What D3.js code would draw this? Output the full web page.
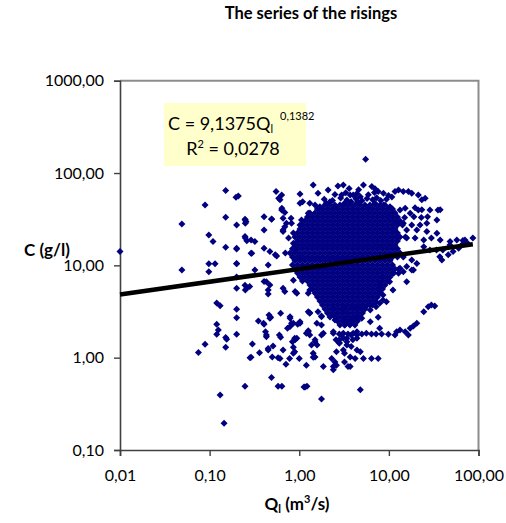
<!DOCTYPE html>
<html>
<head>
<meta charset="utf-8">
<script src="https://cdn.jsdelivr.net/npm/d3@7"></script>
<style>
  body { margin: 0; background: #fff; }
  text { font-family: Lato, "Open Sans", sans-serif; fill: #000; }
</style>
</head>
<body>
<svg id="chart" width="506" height="523"></svg>
<script>
// ---- data ----------------------------------------------------------------
const titleText = "The series of the risings";
const xTickValues = [0.01, 0.1, 1, 10, 100];
const yTickValues = [0.1, 1, 10, 100, 1000];

// power-law fit C = a * Q^b
const fitA = 9.1375;
const fitB = 0.1382;
const fitLabel = "9,1375";
const fitExpLabel = "0,1382";
const fitR2Label = "0,0278";

// scattered observations [Q (m3/s), C (g/l)]
const scatteredPoints = [
  [0.01,14.1],[0.049,28.1],[0.049,8.9],[0.089,45.1],[0.098,21.3],[0.109,18.1],[0.098,10.4],[0.115,10.4],[0.098,8.5],
  [0.151,64.5],[0.151,33.2],[0.151,15.7],[0.197,54.7],[0.209,56.5],[0.2,27.4],[0.2,15.3],[0.2,10.4],[0.2,7.5],
  [0.248,31.6],[0.255,29.7],[0.248,20.5],[0.26,18.5],[0.248,6.1],[0.26,5.7],[0.295,13.5],[0.32,18.1],
  [0.405,33.7],[0.405,24.2],[0.493,31.8],[0.405,15.3],[0.405,6.7],[0.45,5.4],
  [0.551,62.9],[0.637,57.9],[0.59,53.3],[0.637,39.8],[0.54,13.0],[0.66,24.2],[0.72,28.5],[0.81,32.4],[0.61,51.2],
  [1.02,59.3],[1.09,49.0],[1.02,47.1],[1.43,74.3],[1.62,60.4],[2.1,65.6],[2.7,72.5],[2.97,57.9],[4.0,57.9],
  [0.49,31.6],[0.64,41.6],[0.69,37.4],[0.66,32.4],[0.25,31.0],[0.25,28.5],[0.66,23.2],[0.69,26.2],[0.82,28.5],
  [1.06,31.0],[1.02,27.4],[1.26,36.6],[1.31,47.1],[0.25,19.8],[0.29,18.8],[0.2,15.0],[0.29,13.5],[0.47,14.1],[0.56,12.6],
  [0.76,19.8],[0.86,17.4],[0.90,14.7],[1.02,12.4],[0.2,10.5],[0.32,8.9],[0.45,10.1],
  [1.5,45.1],[1.7,43.1],[2.0,47.1],[2.2,49.0],[2.5,43.1],[3.1,45.1],[3.7,47.1],[4.5,49.0],
  [1.9,52.0],[2.35,50.5],[2.9,53.5],[3.4,51.0],[4.3,52.5],[5.0,50.0],[5.7,53.0],[6.6,51.5],[7.3,54.0],[8.1,50.5],[9.4,52.0],
  [2.5,58.5],[3.3,61.0],[4.4,60.0],[5.9,58.0],[6.9,61.5],[9.9,57.0],[10.8,55.0],[3.6,68.0],[4.6,66.0],[7.0,67.5],
  [5.2,74.3],[6.45,71.5],[7.6,62.9],[8.7,60.4],[11.7,62.9],[12.8,65.6],[14.5,62.9],[16.5,62.9],[18.0,60.4],[21.3,57.9],[23.3,51.2],[25.4,53.3],
  [3.1,74.3],[3.7,57.9],[4.8,55.5],[3.2,47.1],[3.8,49.0],
  [5.9,41.6],[7.0,47.1],[8.7,45.1],[10.3,43.1],[13.3,39.8],[17.3,36.6],[21.3,39.8],[28.7,39.8],[35.3,39.8],
  [15.2,41.6],[19.6,42.0],[23.3,40.0],[37.4,40.0],
  [34.3,31.0],[26.5,28.5],[22.3,27.4],[18.0,27.4],[14.5,28.5],[12.4,28.5],[11.3,24.2],[15.8,24.2],[20.5,24.2],[26.5,23.2],[34.3,22.3],
  [9.8,33.7],[15.0,33.0],[19.0,33.7],[23.0,33.0],[27.0,33.7],
  [12.4,20.4],[15.8,19.8],[19.6,19.8],[24.5,18.8],[29.8,19.8],[37.4,18.8],[48.2,18.1],[57.3,18.8],[70.6,18.8],[86.5,19.8],[67,18.6],
  [48,16.6],[34,14.7],[40,14.7],[37,12.4],[24.5,15.9],[28.7,14.7],[39,11.4],[46,13.0],[52,14.1],[60,15.3],[66,16.8],[75,17.5],
  [18,11.4],[20.5,10.5],[15.8,9.7],[18.8,8.9],[5.5,141],
  [15.8,6.66],[11.3,8.2],[13.3,9.3],[7.9,6.14],[8.6,7.5],[12.8,8.2],[14.5,8.5],[18,8.9],
  [10.2,6.66],[11.1,5.4],[8.6,4.78],[7.9,5.4],[7.2,4.04],[7.9,3.88],[8.6,4.22],[9.4,4.04],
  [1.31,3.03],[1.77,2.78],[2.4,3.43],[3.1,3.29],[4.4,3.43],[6.2,3.29],[7.2,3.57],
  [3.2,3.43],[4.0,3.57],[4.8,3.57],[5.4,3.52],[6.2,3.72],
  [3.2,2.56],[3.7,2.45],[4.0,2.67],[4.98,2.67],[6.2,2.45],[7.6,2.74],
  [9.87,1.79],[11.7,1.76],[12.2,1.91],[13.3,1.99],[15.2,1.91],[16.5,1.76],[17.3,2.08],[18.8,2.20],[20.5,2.36],[7.9,2.08],
  [24.5,3.15],[27.5,3.57],[29.8,3.72],[32.5,3.63],
  [2.4,1.84],[2.8,1.80],[3.1,1.84],[3.5,1.80],[4.0,1.84],[4.4,1.76],[5.0,1.80],[5.6,1.84],[6.4,1.80],[7.2,1.80],[8.3,1.80],
  [2.8,1.43],[3.4,1.37],[3.8,1.32],[4.4,1.21],[4.8,1.16],[3.2,1.12],[3.7,1.02],[4.2,0.98],[5.2,0.98],[6.4,0.98],[7.6,0.98],
  [2.8,1.56],[3.1,1.62],[3.4,1.49],[3.96,1.56],[4.4,1.62],
  [1.2,0.83],[1.5,1.02],[1.86,0.80],[2.3,0.98],[2.4,0.74],[2.6,0.83],[2.5,0.90],[3.7,0.80],[3.2,0.90],[3.5,0.80],[2.4,0.80],
  [1.26,1.91],[1.31,1.76],[1.5,1.49],[1.37,1.37],[1.43,1.12],[1.77,1.76],[1.86,1.84],[1.57,2.36],[1.77,2.26],[1.77,2.83],
  [1.31,3.07],[1.26,1.96],[1.50,1.56],[1.58,1.37],[1.43,1.01],[1.62,3.15],[2.4,2.9],[2.5,2.56],[2.4,1.91],[2.57,1.56],[2.8,1.45],[2.6,1.16],[3.1,1.21],
  [2.97,1.76],[3.4,1.62],[3.8,1.76],[4.4,1.91],[3.2,2.26],[3.6,2.36],[4.2,2.67],[4.5,2.78],
  [1.77,0.357],[4.8,0.45],[1.16,0.48],[1.22,0.49],
  [0.120,3.9],[0.131,3.66],[0.2,3.35],[0.2,2.71],[0.12,2.30],[0.125,2.0],[0.12,1.79],[0.151,1.65],[0.155,1.58],[0.2,1.79],
  [0.151,1.30],[0.089,1.40],[0.075,1.14],[0.131,0.394],[0.145,0.195],[0.248,0.49],[0.282,1.0],[0.30,1.41],[0.35,2.5],
  [0.405,2.30],[0.42,1.91],[0.43,1.69],[0.36,1.13],[0.46,2.9],[0.48,2.74],[0.45,1.21],[0.51,1.34],[0.50,1.02],[0.58,1.0],
  [0.49,0.61],[0.58,0.49],[0.64,0.49],[0.62,3.03],[0.60,1.76],[0.62,1.66],[0.66,1.21],[0.71,0.85],[0.79,2.78],[0.74,2.08],
  [0.79,2.17],[0.86,2.36],[0.96,2.30],[1.02,2.36],[0.84,1.49],[0.89,1.62],[0.86,1.12],[0.89,1.16],[1.0,0.98],[1.13,0.48],
  [1.2,1.84],[1.26,3.15],
  [0.2,5.65],[0.25,5.4],[0.28,5.9],[0.43,6.66],[0.47,6.14],[0.45,4.9],[0.66,5.65],[0.69,5.2],[0.86,6.9],[0.90,5.2],[0.94,5.0],[1.31,5.4],[1.26,5.0],
  [0.40,2.36],[0.47,2.67],[0.43,1.76],[0.29,1.01],[0.45,1.26],[0.61,0.98],[0.78,0.98],[0.90,1.56],[0.94,1.62],[0.86,1.30],[0.82,2.36],[0.79,2.67],[1.02,2.45]
];

// dense centre of the cloud, one row per concentration level: [C, [Q, ...]]
const denseRows = [
  [45.1, [1.935,2.201,2.502,2.846,3.236,3.680,4.184,4.758,5.411,6.152,6.997,7.955,9.049]],
  [40.8, [1.596,1.815,2.064,2.347,2.669,3.035,3.451,3.925,4.463,5.075,5.771,6.562,7.462,8.486,9.647,10.97]],
  [37.0, [1.316,1.497,1.702,1.935,2.201,2.502,2.846,3.236,3.680,4.184,4.758,5.411,6.152,6.997,7.955,9.049,10.29,11.70]],
  [33.4, [1.235,1.404,1.596,1.815,2.064,2.347,2.669,3.035,3.451,3.925,4.463,5.075,5.771,6.562,7.462,8.486,9.647,10.97,12.47]],
  [30.3, [1.158,1.316,1.497,1.702,1.935,2.201,2.502,2.846,3.236,3.680,4.184,4.758,5.411,6.152,6.997,7.955,9.049,10.29,11.70,13.30]],
  [27.4, [1.086,1.235,1.404,1.596,1.815,2.064,2.347,2.669,3.035,3.451,3.925,4.463,5.075,5.771,6.562,7.462,8.486,9.647,10.97,12.47,14.2]],
  [24.8, [1.018,1.158,1.316,1.497,1.702,1.935,2.201,2.502,2.846,3.236,3.680,4.184,4.758,5.411,6.152,6.997,7.955,9.049,10.29,11.70]],
  [22.4, [0.86,0.955,1.086,1.235,1.404,1.596,1.815,2.064,2.347,2.669,3.035,3.451,3.925,4.463,5.075,5.771,6.562,7.462,8.486,9.647,10.97,12.47]],
  [20.3, [0.895,1.018,1.158,1.316,1.497,1.702,1.935,2.201,2.502,2.846,3.236,3.680,4.184,4.758,5.411,6.152,6.997,7.955,9.049,10.29,11.70,13.30,15.3]],
  [18.4, [0.955,1.086,1.235,1.404,1.596,1.815,2.064,2.347,2.669,3.035,3.451,3.925,4.463,5.075,5.771,6.562,7.462,8.486,9.647,10.97,12.47]],
  [16.6, [0.895,1.018,1.158,1.316,1.497,1.702,1.935,2.201,2.502,2.846,3.236,3.680,4.184,4.758,5.411,6.152,6.997,7.955,9.049,10.29,11.70]],
  [15.1, [0.840,0.955,1.086,1.235,1.404,1.596,1.815,2.064,2.347,2.669,3.035,3.451,3.925,4.463,5.075,5.771,6.562,7.462,8.486,9.647,10.97,12.47]],
  [13.6, [0.70,0.788,0.895,1.018,1.158,1.316,1.497,1.702,1.935,2.201,2.502,2.846,3.236,3.680,4.184,4.758,5.411,6.152,6.997,7.955,9.049,10.29,11.70,13.30]],
  [12.3, [0.840,0.955,1.086,1.235,1.404,1.596,1.815,2.064,2.347,2.669,3.035,3.451,3.925,4.463,5.075,5.771,6.562,7.462,8.486,9.647,10.97,12.47,14.5]],
  [11.2, [0.895,1.018,1.158,1.316,1.497,1.702,1.935,2.201,2.502,2.846,3.236,3.680,4.184,4.758,5.411,6.152,6.997,7.955,9.049,10.29]],
  [10.1, [0.840,0.955,1.086,1.235,1.404,1.596,1.815,2.064,2.347,2.669,3.035,3.451,3.925,4.463,5.075,5.771,6.562,7.462,8.486,9.647,10.97]],
  [9.14, [0.895,1.018,1.158,1.316,1.497,1.702,1.935,2.201,2.502,2.846,3.236,3.680,4.184,4.758,5.411,6.152,6.997,7.955,9.049,10.29,11.70,12.9]],
  [8.27, [0.955,1.086,1.235,1.404,1.596,1.815,2.064,2.347,2.669,3.035,3.451,3.925,4.463,5.075,5.771,6.562,7.462,8.486,9.647,10.97]],
  [7.49, [1.018,1.158,1.316,1.497,1.702,1.935,2.201,2.502,2.846,3.236,3.680,4.184,4.758,5.411,6.152,6.997,7.955,9.049,10.29]],
  [6.78, [1.086,1.235,1.404,1.596,1.815,2.064,2.347,2.669,3.035,3.451,3.925,4.463,5.075,5.771,6.562,7.462,8.486,9.647]],
  [6.13, [1.316,1.497,1.702,1.935,2.201,2.502,2.846,3.236,3.680,4.184,4.758,5.411,6.152,6.997,7.955,9.049]],
  [5.55, [1.404,1.596,1.815,2.064,2.347,2.669,3.035,3.451,3.925,4.463,5.075,5.771,6.562,7.462,8.486]],
  [5.02, [1.497,1.702,1.935,2.201,2.502,2.846,3.236,3.680,4.184,4.758,5.411,6.152,6.997,7.955]],
  [4.55, [1.596,1.815,2.064,2.347,2.669,3.035,3.451,3.925,4.463,5.075,5.771,6.562,7.462]],
  [4.12, [1.702,1.935,2.201,2.502,2.846,3.236,3.680,4.184,4.758,5.411,6.152,6.997]],
  [3.72, [1.815,2.064,2.347,2.669,3.035,3.451,3.925,4.463,5.075,5.771,6.562]],
  [3.37, [1.935,2.201,2.502,2.846,3.236,3.680,4.184,4.758,5.411]],
  [3.05, [2.064,2.347,2.669,3.035,3.451,3.925,4.463,5.075]],
  [2.76, [2.201,2.502,2.846,3.236,3.680,4.184,4.758]],
  [2.50, [2.669,3.035,3.451,3.925,4.463]],
  [2.26, [2.846,3.236,3.680,4.184]]
];

// ---- chart -----------------------------------------------------------------
const points = scatteredPoints.concat(
  denseRows.flatMap(([c, qs]) => qs.map(q => [q, c]))
);

const svg = d3.select("#chart");
const x = d3.scaleLog().domain([0.01, 100]).range([120, 478.5]);
const y = d3.scaleLog().domain([0.1, 1000]).range([450, 80.7]);

const commaLocale = d3.formatLocale({ decimal: ",", thousands: ".", grouping: [3], currency: ["", ""] });
const fmtTick = commaLocale.format(".2f");

// title
svg.append("text")
  .attr("x", 311).attr("y", 19)
  .attr("text-anchor", "middle")
  .style("font-weight", "bold").style("font-size", "16.5px")
  .text(titleText);

// plot frame (top and right edges)
svg.append("path")
  .attr("d", `M${x(0.01)},${y(1000)}H${x(100)}V${y(0.1)}`)
  .attr("fill", "none").attr("stroke", "#8c8c8c").attr("stroke-width", 2);

// axes
const yAxis = d3.axisLeft(y).tickValues(yTickValues).tickSize(6).tickPadding(10).tickFormat(fmtTick);
const xAxis = d3.axisBottom(x).tickValues(xTickValues).tickSize(6).tickPadding(14).tickFormat(fmtTick);

const gy = svg.append("g").attr("transform", `translate(${x(0.01)},0)`).call(yAxis);
const gx = svg.append("g").attr("transform", `translate(0,${y(0.1)})`).call(xAxis);
[gx, gy].forEach(g => {
  g.select(".domain").attr("stroke", "#404040").attr("stroke-width", 1.6);
  g.selectAll(".tick line").attr("stroke", "#404040").attr("stroke-width", 1.4);
  g.selectAll(".tick text").style("font-size", "16px").attr("fill", "#000")
    .style("font-family", "Lato, 'Open Sans', sans-serif");
});
gx.selectAll(".tick text").attr("dy", "0.71em");

// axis titles
svg.append("text")
  .attr("x", 47).attr("y", 256)
  .attr("text-anchor", "middle")
  .style("font-weight", "bold").style("font-size", "17px")
  .text("C (g/l)");

const xt = svg.append("text")
  .attr("x", 297).attr("y", 510)
  .attr("text-anchor", "middle")
  .style("font-weight", "bold").style("font-size", "17px");
xt.append("tspan").text("Q");
xt.append("tspan").text("l").style("font-size", "11px").attr("dy", 3);
xt.append("tspan").text(" (m").attr("dy", -3);
xt.append("tspan").text("3").style("font-size", "11px").attr("dy", -7);
xt.append("tspan").text("/s)").attr("dy", 7);

// scatter markers
const diamond = "M0,-3.5L3.5,0L0,3.5L-3.5,0Z";
svg.append("g").selectAll("path")
  .data(points)
  .join("path")
  .attr("d", diamond)
  .attr("transform", d => `translate(${x(d[0])},${y(d[1])})`)
  .attr("fill", "#000080");

// fitted power-law trend line across the data range
const qMin = 0.01;
const qMax = d3.max(points, d => d[0]);
const fit = q => fitA * Math.pow(q, fitB);
svg.append("line")
  .attr("x1", x(qMin)).attr("y1", y(fit(qMin)))
  .attr("x2", x(qMax)).attr("y2", y(fit(qMax)))
  .attr("stroke", "#000").attr("stroke-width", 4.5);

// equation label
svg.append("rect")
  .attr("x", 164).attr("y", 103).attr("width", 142).attr("height", 63)
  .attr("fill", "#ffffcc");

const eq = svg.append("text").attr("x", 168).attr("y", 130).style("font-size", "18px");
eq.append("tspan").text("C = " + fitLabel + "Q");
eq.append("tspan").text("l").style("font-size", "11px").attr("dy", 3);
svg.append("text").attr("x", 280).attr("y", 120).style("font-size", "11px").text(fitExpLabel);

const r2 = svg.append("text").attr("x", 233).attr("y", 155).attr("text-anchor", "middle").style("font-size", "18px");
r2.append("tspan").text("R");
r2.append("tspan").text("2").style("font-size", "11px").attr("dy", -7);
r2.append("tspan").text(" = " + fitR2Label).attr("dy", 7);
</script>
</body>
</html>
